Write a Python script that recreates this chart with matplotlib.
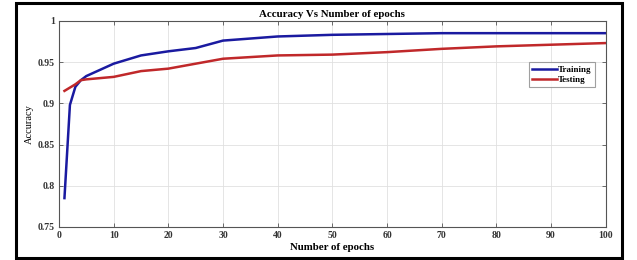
import matplotlib
matplotlib.use("Agg")
import matplotlib.pyplot as plt
from matplotlib.patches import Rectangle

# Data
train_epochs = [1, 2, 3, 4, 5, 10, 15, 20, 25, 30, 40, 50, 60, 70, 80, 90, 100]
train_acc = [0.785, 0.898, 0.920, 0.928, 0.933, 0.948, 0.958, 0.963, 0.967, 0.976,
             0.981, 0.983, 0.984, 0.985, 0.985, 0.985, 0.985]
test_epochs = [1, 2, 3, 4, 5, 10, 15, 20, 25, 30, 40, 50, 60, 70, 80, 90, 100]
test_acc = [0.915, 0.919, 0.923, 0.928, 0.929, 0.932, 0.939, 0.942, 0.948, 0.954,
            0.958, 0.959, 0.962, 0.966, 0.969, 0.971, 0.973]

x_ticks = list(range(0, 101, 10))
y_ticks = [0.75, 0.8, 0.85, 0.9, 0.95, 1]
y_labels = ["0.75", "0.8", "0.85", "0.9", "0.95", "1"]

plt.rcParams["font.family"] = ["Liberation Serif", "DejaVu Serif"]

fig = plt.figure(figsize=(6.37, 2.6), dpi=100)
ax = fig.add_axes([0.0926, 0.127, 0.8584, 0.793])

ax.plot(train_epochs, train_acc, color="#1a1aa0", lw=1.8, label="Training")
ax.plot(test_epochs, test_acc, color="#c0282a", lw=1.8, label="Testing")

ax.set_xlim(0, 100)
ax.set_ylim(0.75, 1)
ax.set_xticks(x_ticks)
ax.set_yticks(y_ticks)
ax.set_yticklabels(y_labels)
ax.tick_params(direction="in", top=True, right=True, labelsize=7, length=3,
               color="#555555", width=0.6, pad=3)
for lab in ax.get_xticklabels() + ax.get_yticklabels():
    lab.set_fontweight("bold")
    lab.set_color("#333333")
ax.grid(True, color="#e0e0e0", lw=0.6)
for s in ax.spines.values():
    s.set_color("#555555")
    s.set_linewidth(0.8)

ax.set_title("Accuracy Vs Number of epochs", fontsize=7.8, fontweight="bold", pad=3)
ax.set_xlabel("Number of epochs", fontsize=7.8, fontweight="bold", labelpad=2)
ax.set_ylabel("Accuracy", fontsize=7.5, labelpad=3)

leg = ax.legend(loc="upper right", bbox_to_anchor=(0.988, 0.82), fontsize=6.5,
                frameon=True, fancybox=False, handlelength=2.8, handletextpad=0.1,
                borderpad=0.35, labelspacing=0.2)
leg.get_frame().set_edgecolor("#888888")
leg.get_frame().set_linewidth(0.8)
for t in leg.get_texts():
    t.set_fontweight("bold")

# black outer frame around the figure
fig.patches.append(Rectangle((16 / 637, 2 / 260), 606 / 637, 255 / 260,
                             transform=fig.transFigure, fill=False,
                             edgecolor="black", lw=2.2))

fig.savefig("out.png", dpi=100)
